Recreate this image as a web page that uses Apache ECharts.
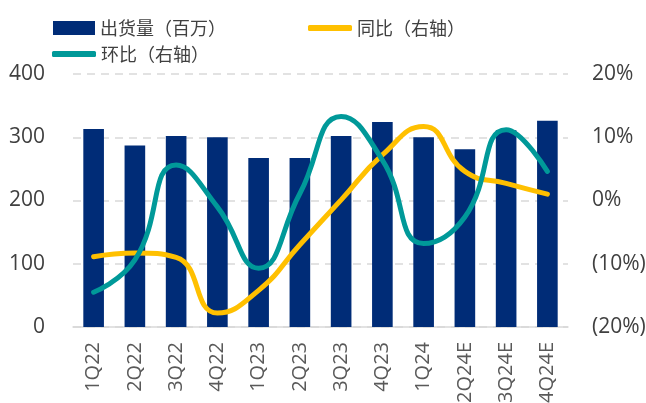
<!DOCTYPE html>
<html><head><meta charset="utf-8">
<script src="https://cdn.jsdelivr.net/npm/echarts@6/dist/echarts.min.js"></script>
<style>html,body{margin:0;padding:0;background:#fff}#c{width:646px;height:403px}</style>
</head><body><div id="c"></div>
<script>
const categories = ['1Q22','2Q22','3Q22','4Q22','1Q23','2Q23','3Q23','4Q23','1Q24','2Q24E','3Q24E','4Q24E'];
const shipments = [313, 287, 302, 300, 267, 267, 302, 324, 300, 281, 311, 326];
const yoy = [-8.9, -8.3, -9.0, -17.8, -14.2, -7.0, 0.1, 7.2, 11.7, 4.6, 2.7, 1.0];
const qoq = [-14.5, -9.4, 5.6, -1.0, -10.7, 1.1, 13.3, 6.4, -6.8, -2.6, 11.2, 4.6];
const leftTicks = [0, 100, 200, 300, 400];
const rightTicks = [-20, -10, 0, 10, 20];

const font = '"Noto Sans CJK SC", "Noto Sans", sans-serif';
const axisFont = '"Open Sans", "Noto Sans", sans-serif';
const chart = echarts.init(document.getElementById('c'));
const legendText = {fontSize: 18, color: '#404040', fontFamily: font};
chart.setOption({
  animation: false,
  legend: [
    {data: [{name: '出货量（百万）', icon: 'rect'}], left: 53, top: 19, itemWidth: 42, itemHeight: 14, itemGap: 4, textStyle: legendText, padding: 0},
    {data: [{name: '同比（右轴）', icon: 'roundRect'}], left: 308, top: 19, itemWidth: 44, itemHeight: 6, textStyle: legendText, padding: 0},
    {data: [{name: '环比（右轴）', icon: 'roundRect'}], left: 52, top: 45, itemWidth: 44, itemHeight: 6, textStyle: legendText, padding: 0}
  ],
  grid: {left: 73, right: 78, top: 74, bottom: 76, containLabel: false, outerBoundsMode: 'none'},
  xAxis: {
    type: 'category', data: categories,
    axisLine: {lineStyle: {color: '#d9d9d9', width: 1.5}},
    axisTick: {show: false},
    axisLabel: {rotate: 90, margin: 15, fontSize: 20, color: '#595959', fontFamily: axisFont, hideOverlap: false}
  },
  yAxis: [
    {type: 'value', min: leftTicks[0], max: leftTicks[leftTicks.length-1], interval: 100,
     axisLine: {show: false}, axisTick: {show: false},
     axisLabel: {fontSize: 21, color: '#404040', margin: 28, fontFamily: axisFont},
     splitLine: {lineStyle: {color: '#d9d9d9', type: [8, 6], width: 1.5}}},
    {type: 'value', min: rightTicks[0], max: rightTicks[rightTicks.length-1], interval: 10,
     axisLine: {show: false}, axisTick: {show: false},
     axisLabel: {fontSize: 21, color: '#404040', margin: 24, fontFamily: axisFont,
       formatter: v => v < 0 ? '(' + Math.abs(v) + '%)' : v + '%'},
     splitLine: {show: false}}
  ],
  series: [
    {name: '出货量（百万）', type: 'bar', data: shipments, barWidth: '50%', itemStyle: {color: '#002C77'}},
    {name: '同比（右轴）', type: 'line', yAxisIndex: 1, data: yoy, smooth: 0.5, symbol: 'none',
     lineStyle: {color: '#FFC000', width: 5, cap: 'round'}, itemStyle: {color: '#FFC000'}},
    {name: '环比（右轴）', type: 'line', yAxisIndex: 1, data: qoq, smooth: 0.5, symbol: 'none',
     lineStyle: {color: '#009999', width: 5, cap: 'round'}, itemStyle: {color: '#009999'}}
  ]
});
</script></body></html>
